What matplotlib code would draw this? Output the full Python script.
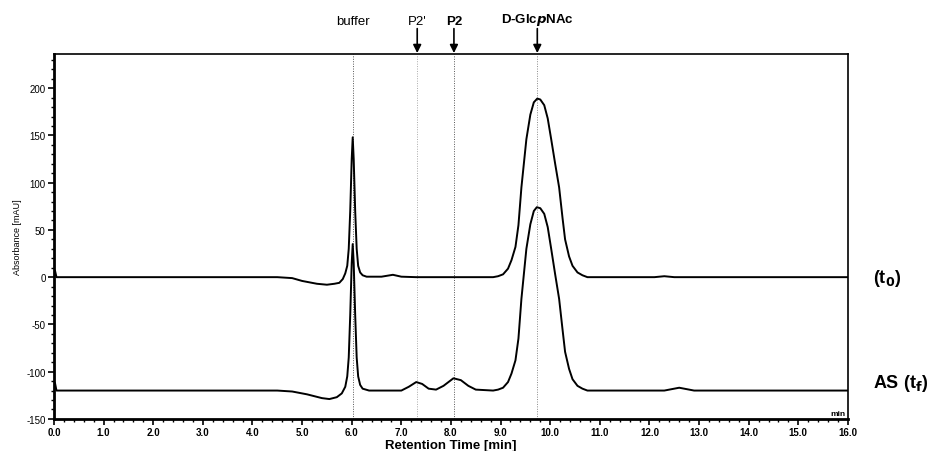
import matplotlib
matplotlib.use("Agg")
import matplotlib.pyplot as plt
from matplotlib.ticker import MultipleLocator, FormatStrFormatter

plt.rcParams['font.family'] = ['Liberation Sans', 'DejaVu Sans']
plt.rcParams['axes.unicode_minus'] = False

# trace t0
t0_time = [0.0, 0.02, 0.05, 4.5, 4.8, 5.0, 5.3, 5.5, 5.65, 5.75, 5.82, 5.87, 5.91, 5.94,
           5.97, 6.0, 6.02, 6.04, 6.07, 6.1, 6.13, 6.17, 6.22, 6.3, 6.6, 6.83, 7.0, 7.3,
           8.5, 8.85, 8.95, 9.05, 9.15, 9.22, 9.3, 9.36, 9.42, 9.52, 9.6, 9.67, 9.74, 9.8,
           9.88, 9.95, 10.02, 10.1, 10.18, 10.25, 10.3, 10.38, 10.45, 10.55, 10.65, 10.75,
           12.1, 12.3, 12.5, 16.0]
t0_abs = [0, 7, 0, 0, -1, -4, -7, -8, -7, -6, -2, 4, 12, 30,
          70, 125, 148, 125, 70, 30, 12, 5, 2, 0.5, 0.5, 2.5, 0.5, 0,
          0, 0, 1, 3, 9, 18, 32, 55, 95, 146, 172, 185, 189, 188,
          182, 168, 146, 120, 95, 62, 40, 22, 12, 5, 2, 0,
          0, 1, 0, 0]

# trace AS (tf)
as_time = [0.0, 0.02, 0.05, 4.5, 4.8, 5.1, 5.4, 5.55, 5.7, 5.8, 5.87, 5.91, 5.94, 5.97,
           6.0, 6.02, 6.04, 6.07, 6.1, 6.13, 6.17, 6.22, 6.35, 7.0, 7.15, 7.3, 7.42, 7.55,
           7.7, 7.85, 8.05, 8.2, 8.35, 8.5, 8.85, 8.95, 9.05, 9.15, 9.22, 9.3, 9.36, 9.42,
           9.52, 9.6, 9.67, 9.73, 9.8, 9.88, 9.95, 10.02, 10.1, 10.18, 10.25, 10.3, 10.38,
           10.45, 10.55, 10.65, 10.75, 12.3, 12.6, 12.9, 16.0]
as_abs = [-120, -112, -120, -120, -121, -124, -128, -129, -127, -123, -116, -105, -85, -40,
          15, 35, 15, -40, -85, -105, -114, -118, -120, -120, -116, -111, -113, -118,
          -119, -115, -107, -109, -115, -119, -120, -119, -117, -111, -102, -88, -65, -23,
          30, 56, 70, 74, 73, 67, 53, 30, 3, -23, -56, -79, -97,
          -108, -115, -118, -120, -120, -117, -120, -120]

# marked retention times
mark_names = ['buffer', "P2'", 'P2', r'D-Glc$\boldsymbol{p}$NAc']
mark_times = [6.02, 7.32, 8.06, 9.74]
mark_bold = [False, False, True, True]
mark_arrow = [False, True, True, True]
mark_line_color = ['#555555', '#aaaaaa', '#555555', '#888888']

trace_labels = [r'(t$_\mathbf{0}$)', r'AS (t$_\mathbf{f}$)']
trace_label_y = [0, -112]

fig = plt.figure(figsize=(9.39, 4.52), dpi=100)
ax = fig.add_axes([0.0575, 0.071, 0.8455, 0.807])

ax.plot(t0_time, t0_abs, color='black', lw=1.4)
ax.plot(as_time, as_abs, color='black', lw=1.4)

for name, t, bold, arrow, lc in zip(mark_names, mark_times, mark_bold, mark_arrow,
                                    mark_line_color):
    ax.axvline(t, color=lc, lw=0.7, ls=(0, (1, 1.5)), zorder=0)
    ax.text(t, 1.075, name, transform=ax.get_xaxis_transform(), ha='center', va='bottom',
            fontsize=9.5, fontweight='bold' if bold else 'normal')
    if arrow:
        ax.annotate('', xy=(t, 1.003), xytext=(t, 1.07),
                    xycoords=ax.get_xaxis_transform(),
                    arrowprops=dict(arrowstyle='-|>', color='black', lw=1.2,
                                    mutation_scale=12, shrinkA=0, shrinkB=0),
                    annotation_clip=False)

for lab, y in zip(trace_labels, trace_label_y):
    ax.text(16.5, y, lab, ha='left', va='center', fontsize=13, fontweight='bold',
            clip_on=False)

ax.set_xlim(0, 16)
ax.set_ylim(-150, 236)
ax.xaxis.set_major_locator(MultipleLocator(1))
ax.xaxis.set_minor_locator(MultipleLocator(0.2))
ax.xaxis.set_major_formatter(FormatStrFormatter('%.1f'))
ax.yaxis.set_major_locator(MultipleLocator(50))
ax.yaxis.set_minor_locator(MultipleLocator(10))
ax.tick_params(axis='both', which='major', direction='out', length=4, width=1.2,
               labelsize=7, pad=2)
ax.tick_params(axis='both', which='minor', direction='out', length=2, width=1)
for lab in ax.get_xticklabels():
    lab.set_fontweight('bold')

for side in ['left', 'bottom']:
    ax.spines[side].set_linewidth(2)
for side in ['top', 'right']:
    ax.spines[side].set_linewidth(1.2)

ax.set_xlabel('Retention Time [min]', fontsize=9.5, fontweight='bold', labelpad=1)
ax.set_ylabel('Absorbance [mAU]', fontsize=6.5, labelpad=3)
ax.text(15.95, -148, 'min', ha='right', va='bottom', fontsize=6, fontweight='bold')

fig.savefig('out.png', dpi=100)
